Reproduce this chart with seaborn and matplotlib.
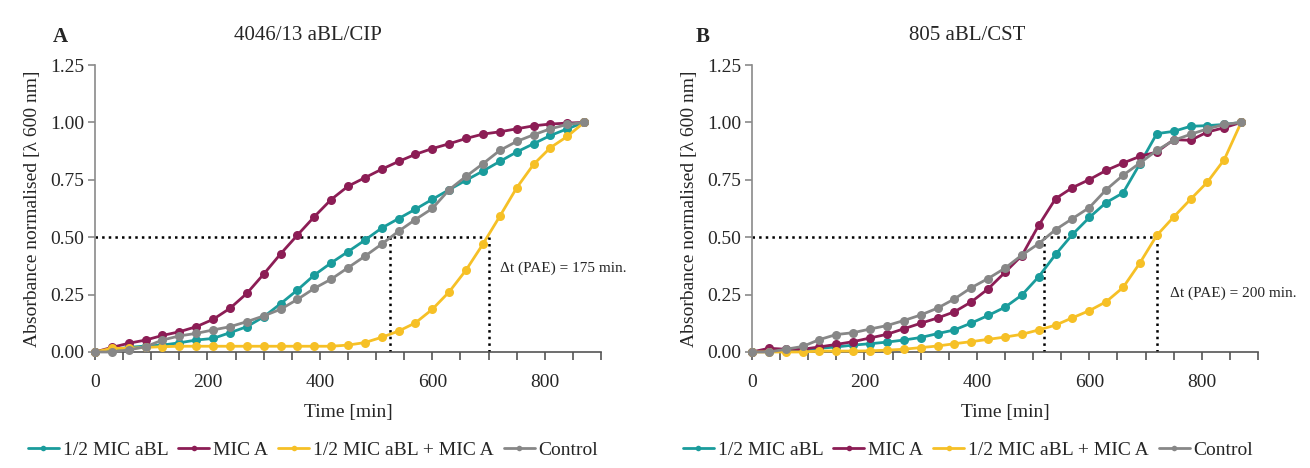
import numpy as np
import pandas as pd
import matplotlib
matplotlib.use("Agg")
import matplotlib.pyplot as plt
from matplotlib.lines import Line2D
from matplotlib.ticker import MultipleLocator, FormatStrFormatter
import seaborn as sns

# time points [min]
time_min = [0, 30, 60, 90, 120, 150, 180, 210, 240, 270, 300, 330, 360, 390, 420,
            450, 480, 510, 540, 570, 600, 630, 660, 690, 720, 750, 780, 810, 840, 870]

series_names = ["1/2 MIC aBL", "MIC A", "1/2 MIC aBL + MIC A", "Control"]

# panel A: 4046/13 aBL/CIP
a_half_abl = [0, 0.01, 0.02, 0.026, 0.03, 0.04, 0.052, 0.059, 0.084, 0.11, 0.153, 0.21, 0.27, 0.335, 0.388,
              0.437, 0.487, 0.54, 0.581, 0.622, 0.665, 0.707, 0.748, 0.788, 0.83, 0.871, 0.907, 0.943, 0.972, 1.0]
a_mic_a = [0, 0.02, 0.038, 0.052, 0.072, 0.088, 0.11, 0.142, 0.19, 0.255, 0.339, 0.427, 0.509, 0.589, 0.664,
           0.722, 0.759, 0.796, 0.83, 0.861, 0.886, 0.907, 0.93, 0.949, 0.959, 0.972, 0.985, 0.993, 0.997, 1.0]
a_combo = [0, 0.016, 0.016, 0.02, 0.023, 0.025, 0.025, 0.025, 0.025, 0.025, 0.025, 0.025, 0.025, 0.025, 0.025,
           0.03, 0.041, 0.064, 0.091, 0.127, 0.186, 0.262, 0.357, 0.47, 0.591, 0.715, 0.817, 0.89, 0.939, 1.0]
a_control = [0, 0, 0.009, 0.023, 0.052, 0.07, 0.081, 0.096, 0.11, 0.132, 0.157, 0.186, 0.229, 0.277, 0.317,
             0.367, 0.417, 0.47, 0.526, 0.577, 0.625, 0.707, 0.765, 0.82, 0.878, 0.917, 0.946, 0.972, 0.991, 1.0]

# panel B: 805 aBL/CST
b_half_abl = [0, 0.005, 0.008, 0.008, 0.016, 0.022, 0.03, 0.036, 0.043, 0.052, 0.063, 0.08, 0.096, 0.126, 0.159,
              0.195, 0.248, 0.328, 0.425, 0.512, 0.586, 0.651, 0.693, 0.82, 0.951, 0.961, 0.983, 0.986, 0.991, 1.0]
b_mic_a = [0, 0.016, 0.012, 0.012, 0.022, 0.033, 0.045, 0.061, 0.077, 0.101, 0.125, 0.148, 0.175, 0.218, 0.275,
           0.347, 0.42, 0.552, 0.668, 0.716, 0.751, 0.791, 0.823, 0.852, 0.871, 0.925, 0.922, 0.958, 0.977, 1.0]
b_combo = [0, 0, 0, 0, 0.004, 0.004, 0.004, 0.005, 0.008, 0.012, 0.019, 0.026, 0.036, 0.045, 0.055,
           0.065, 0.077, 0.096, 0.117, 0.149, 0.18, 0.219, 0.281, 0.388, 0.508, 0.588, 0.665, 0.74, 0.838, 1.0]
b_control = [0, 0, 0.012, 0.024, 0.054, 0.076, 0.084, 0.1, 0.115, 0.137, 0.161, 0.191, 0.231, 0.28, 0.32,
             0.365, 0.422, 0.472, 0.533, 0.581, 0.629, 0.707, 0.77, 0.823, 0.878, 0.922, 0.948, 0.972, 0.991, 1.0]

# PAE markers: (t at 0.5 for control/aBL, t at 0.5 for combination)
pae_a = [525, 700]
pae_b = [520, 720]

colors = {"1/2 MIC aBL": "#1a9c9c", "MIC A": "#8c1d55",
          "1/2 MIC aBL + MIC A": "#f6c026", "Control": "#878787"}


def long_df(vals):
    rows = []
    for name, v in zip(series_names, vals):
        for t, y in zip(time_min, v):
            rows.append((t, y, name))
    return pd.DataFrame(rows, columns=["t", "y", "series"])


dfa = long_df([a_half_abl, a_mic_a, a_combo, a_control])
dfb = long_df([b_half_abl, b_mic_a, b_combo, b_control])

sns.set_style("white")
plt.rcParams["font.family"] = ["Liberation Serif", "DejaVu Serif"]

fig = plt.figure(figsize=(13.1, 4.68), dpi=100)
axa = fig.add_axes([95 / 1310, 0.2479, 506 / 1310, 0.6132])
axb = fig.add_axes([752 / 1310, 0.2479, 506 / 1310, 0.6132])


def draw(ax, df, pae, label_xy):
    sns.lineplot(data=df, x="t", y="y", hue="series", hue_order=series_names,
                 palette=colors, marker="o", markersize=6.5, markeredgewidth=0,
                 linewidth=2, sort=False, legend=False, ax=ax, clip_on=False, zorder=3)
    t1, t2 = pae
    ax.plot([0, t2], [0.5, 0.5], ls=":", color="black", lw=1.8, zorder=2)
    ax.plot([t1, t1], [0, 0.5], ls=":", color="black", lw=1.8, zorder=2)
    ax.plot([t2, t2], [0, 0.5], ls=":", color="black", lw=1.8, zorder=2)
    ax.text(label_xy[0], label_xy[1], "\u0394t (PAE) = %d min." % (t2 - t1),
            fontsize=11, ha="left", va="center")
    ax.set_xlim(0, 900)
    ax.set_ylim(0, 1.25)
    ax.xaxis.set_major_locator(MultipleLocator(200))
    ax.xaxis.set_minor_locator(MultipleLocator(50))
    ax.yaxis.set_major_locator(MultipleLocator(0.25))
    ax.yaxis.set_major_formatter(FormatStrFormatter("%.2f"))
    for s in ["top", "right"]:
        ax.spines[s].set_visible(False)
    ax.spines["left"].set_color("#8a8a8a")
    ax.spines["bottom"].set_color("#555555")
    ax.spines["left"].set_linewidth(1.2)
    ax.spines["bottom"].set_linewidth(1.2)
    ax.tick_params(axis="y", which="both", left=True, length=5, width=1.2,
                   color="#8a8a8a", labelsize=14, pad=3)
    ax.tick_params(axis="x", which="both", bottom=True, length=6, width=1.2,
                   color="#555555", labelsize=14, pad=10)
    ax.set_xlabel("Time [min]", fontsize=14, labelpad=9)
    ax.set_ylabel("Absorbance normalised [\u03bb 600 nm]", fontsize=14, labelpad=6)


draw(axa, dfa, pae_a, (720, 0.365))
draw(axb, dfb, pae_b, (743, 0.257))

fig.text(60 / 1310, 0.922, "A", fontsize=15, fontweight="bold", ha="center", va="center")
fig.text(308 / 1310, 0.925, "4046/13 aBL/CIP", fontsize=15, ha="center", va="center")
fig.text(703 / 1310, 0.922, "B", fontsize=15, fontweight="bold", ha="center", va="center")
fig.text(967 / 1310, 0.925, "805 aBL/CST", fontsize=15, ha="center", va="center")

handles = [Line2D([0], [0], color=colors[n], lw=2, marker="o", markersize=4,
                  markeredgewidth=0) for n in series_names]
for cx in [313 / 1310, 968 / 1310]:
    fig.legend(handles, series_names, loc="center", bbox_to_anchor=(cx, 0.038),
               ncol=4, frameon=False, fontsize=14, handlelength=1.6,
               handletextpad=0.2, columnspacing=0.5, borderaxespad=0)

fig.savefig("out.png", dpi=100)
